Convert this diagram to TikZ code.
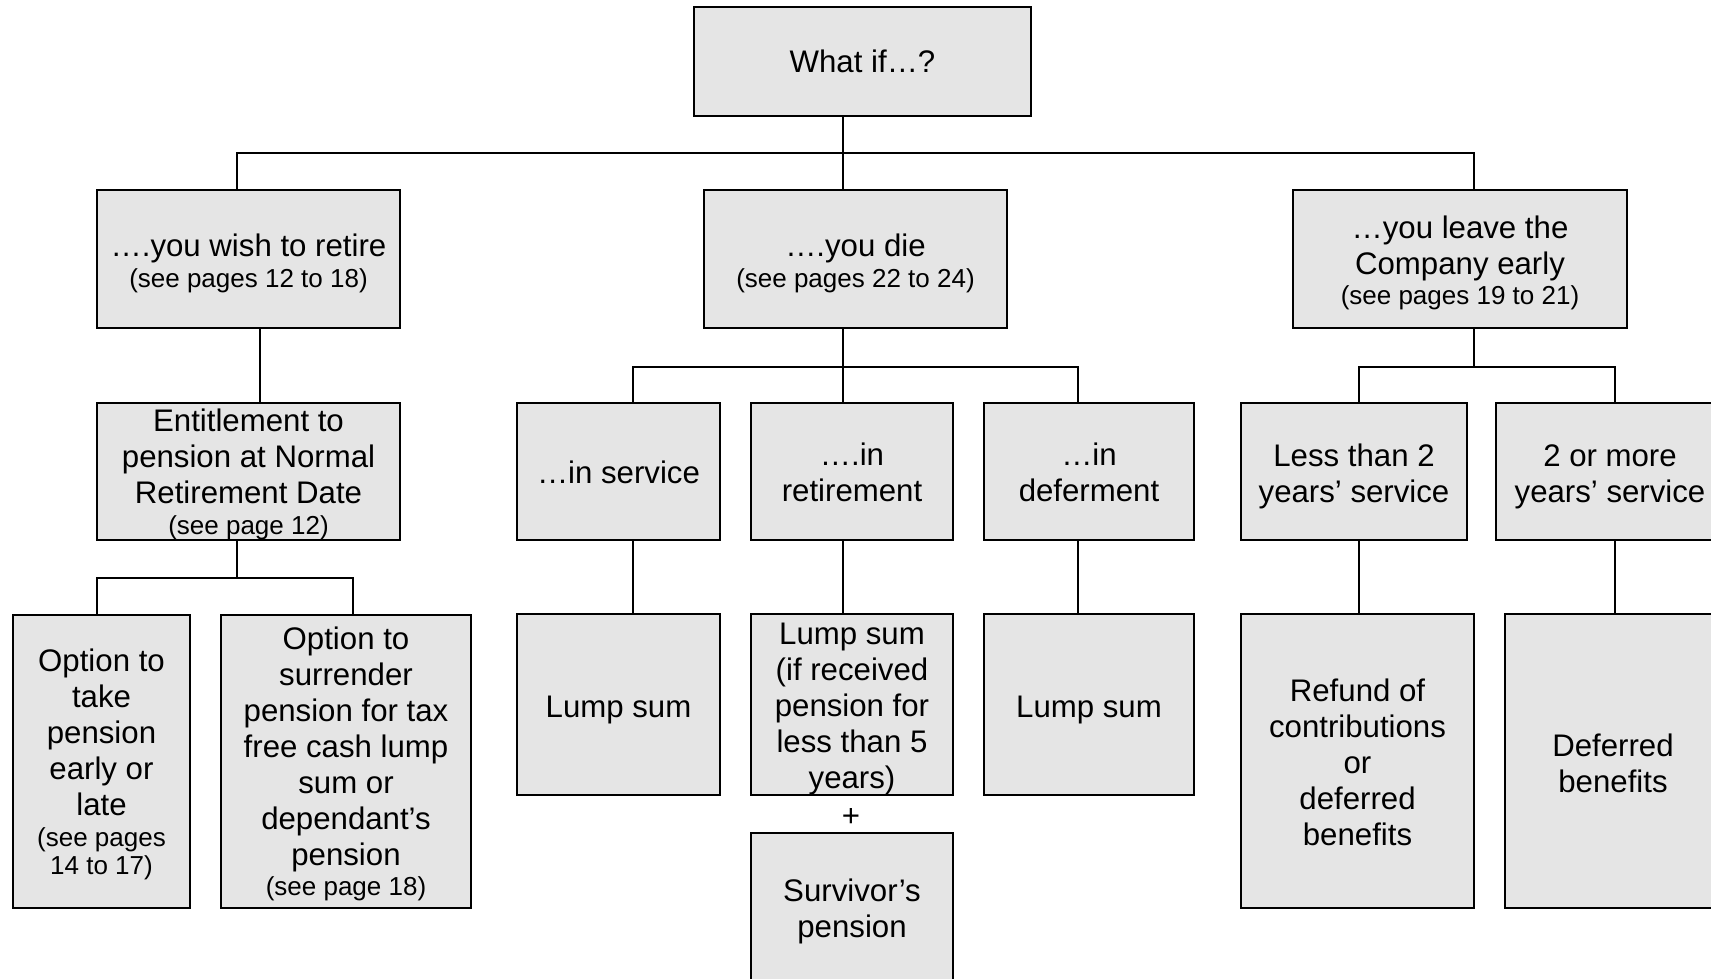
\documentclass[tikz,border=0pt]{standalone}
\usepackage{fontspec}
\setmainfont{Liberation Sans}
\newcommand\smalltxt{\fontsize{26}{28}\selectfont}
\begin{document}
\begin{tikzpicture}[x=1pt,y=-1pt,
  box/.style={draw=black, line width=2pt, fill=black!10, inner sep=0pt},
  txt/.style={align=center, inner sep=0pt, font=\fontsize{31.2}{36}\selectfont},
  conn/.style={line width=2pt}]
\useasboundingbox (0,0) rectangle (1711,979);
\clip (0,0) rectangle (1711,979);

% level 0
\node[box, minimum width=337pt, minimum height=109pt,
  label={[txt]center:{What if…?}}] (top) at (862.5,61.5) {};

% level 1
\node[box, minimum width=303pt, minimum height=138pt,
  label={[txt, yshift=-4.3pt]center:{….you wish to retire\\[-5.5pt]{\smalltxt (see pages 12 to 18)}}}] (retire) at (248.5,259) {};
\node[box, minimum width=303pt, minimum height=138pt,
  label={[txt, yshift=-4.3pt]center:{….you die\\[-5.5pt]{\smalltxt (see pages 22 to 24)}}}] (die) at (855.5,259) {};
\node[box, minimum width=334pt, minimum height=138pt,
  label={[txt, yshift=-4.3pt]center:{…you leave the\\Company early\\[-6pt]{\smalltxt (see pages 19 to 21)}}}] (leave) at (1460,259) {};

% level 2
\node[box, minimum width=303pt, minimum height=137pt,
  label={[txt, yshift=-3.3pt]center:{Entitlement to\\pension at Normal\\Retirement Date\\[-5pt]{\smalltxt (see page 12)}}}] (entitle) at (248.5,471.5) {};
\node[box, minimum width=203pt, minimum height=137pt,
  label={[txt, yshift=-1pt]center:{…in service}}] (service) at (618.5,471.5) {};
\node[box, minimum width=202pt, minimum height=137pt,
  label={[txt, yshift=-1pt]center:{….in\\retirement}}] (inret) at (852,471.5) {};
\node[box, minimum width=210pt, minimum height=137pt,
  label={[txt, yshift=-1pt]center:{…in\\deferment}}] (indef) at (1089,471.5) {};
\node[box, minimum width=226pt, minimum height=137pt,
  label={[txt, yshift=-4.5pt]center:{Less than 2\\years’ service}}] (less) at (1354,471.5) {};
\node[box, minimum width=228pt, minimum height=137pt,
  label={[txt, yshift=-5pt]center:{2 or more\\years’ service}}] (more) at (1610,471.5) {};

% level 3
\node[box, minimum width=177pt, minimum height=293pt,
  label={[txt, yshift=-2.7pt]center:{Option to\\take\\pension\\early or\\late\\[-5pt]{\smalltxt (see pages}\\[-8pt]{\smalltxt 14 to 17)}}}] (opttake) at (101.5,761.5) {};
\node[box, minimum width=250pt, minimum height=293pt,
  label={[txt, yshift=-2.7pt]center:{Option to\\surrender\\pension for tax\\free cash lump\\sum or\\dependant’s\\pension\\[-6pt]{\smalltxt (see page 18)}}}] (optsurr) at (346,761.5) {};
\node[box, minimum width=203pt, minimum height=181pt,
  label={[txt, yshift=-5.5pt]center:{Lump sum}}] (lump1) at (618.5,704.5) {};
\node[box, minimum width=202pt, minimum height=181pt,
  label={[txt, yshift=-4.5pt]center:{Lump sum\\(if received\\pension for\\less than 5\\years)}}] (lump2) at (852,704.5) {};
\node[box, minimum width=210pt, minimum height=181pt,
  label={[txt, yshift=-5.5pt]center:{Lump sum}}] (lump3) at (1089,704.5) {};
\node[box, minimum width=233pt, minimum height=294pt,
  label={[txt, yshift=-1.5pt]center:{Refund of\\contributions\\or\\deferred\\benefits}}] (refund) at (1357.5,761) {};
\node[box, minimum width=216pt, minimum height=294pt,
  label={[txt, yshift=-2pt]center:{Deferred\\benefits}}] (deferred) at (1613,761) {};

\node[txt] (plus) at (851,817) {+};
\node[box, minimum width=202pt, minimum height=152pt,
  label={[txt, yshift=-2pt]center:{Survivor’s\\pension}}] (surv) at (852,909) {};

% connectors
\coordinate (j0) at (843,153);
\coordinate (jR) at (237,153);
\coordinate (jL) at (1474,153);
\draw[conn] (top.south -| j0) -- (j0);
\draw[conn] (retire.north -| jR) -- (jR) -- (jL) -- (leave.north -| jL);
\draw[conn] (j0) -- (die.north -| j0);

\coordinate (e1) at (260,403);
\draw[conn] (retire.south -| e1) -- (entitle.north -| e1);

\coordinate (o0) at (237,578);
\coordinate (o1) at (97,578);
\coordinate (o2) at (353,578);
\draw[conn] (entitle.south -| o0) -- (o0);
\draw[conn] (opttake.north -| o1) -- (o1) -- (o2) -- (optsurr.north -| o2);

\coordinate (d0) at (843,367);
\coordinate (d1) at (633,367);
\coordinate (d3) at (1078,367);
\draw[conn] (die.south -| d0) -- (d0) -- (inret.north -| d0);
\draw[conn] (service.north -| d1) -- (d1) -- (d3) -- (indef.north -| d3);

\coordinate (l0) at (1474,367);
\coordinate (l1) at (1359,367);
\coordinate (l2) at (1615,367);
\draw[conn] (leave.south -| l0) -- (l0);
\draw[conn] (less.north -| l1) -- (l1) -- (l2) -- (more.north -| l2);

\draw[conn] (service.south -| d1) -- (lump1.north -| d1);
\draw[conn] (inret.south -| d0) -- (lump2.north -| d0);
\draw[conn] (indef.south -| d3) -- (lump3.north -| d3);
\draw[conn] (less.south -| l1) -- (refund.north -| l1);
\draw[conn] (more.south -| l2) -- (deferred.north -| l2);
\end{tikzpicture}
\end{document}
